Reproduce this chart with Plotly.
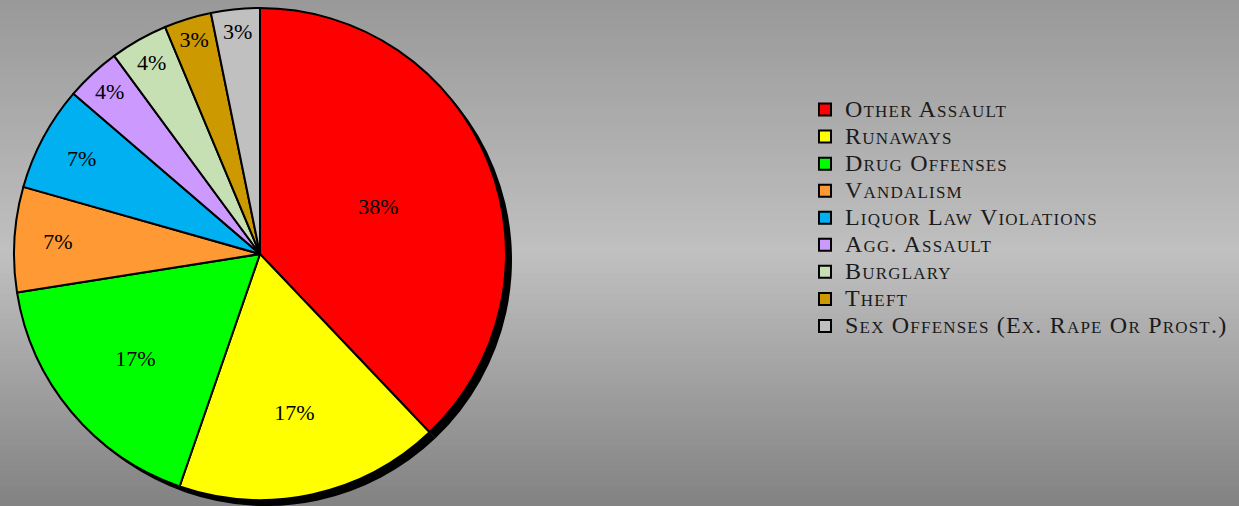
import plotly.graph_objects as go

labels = ["Other Assault", "Runaways", "Drug Offenses", "Vandalism",
          "Liquor Law Violations", "Agg. Assault", "Burglary", "Theft",
          "Sex Offenses (Ex. Rape Or Prost.)"]
values = [37.9, 17.4, 17.2, 6.9, 6.9, 3.6, 3.8, 3.1, 3.2]
colors = ["#FF0000", "#FFFF00", "#00FF00", "#FF9933", "#00B0F0",
          "#CC99FF", "#C6E0B4", "#CC9900", "#C0C0C0"]

W, H = 1239, 506
cx, cy, r = 260, 254, 246
sh = 6

def dom(dx=0, dy=0):
    x0 = (cx - r + dx) / W
    x1 = (cx + r + dx) / W
    yb = H - (cy + dy)
    return dict(x=[max(0, x0), min(1, x1)],
                y=[max(0.0, (yb - r) / H), min(1.0, (yb + r) / H)])

legend_labels = ["<span style='font-size:24px;letter-spacing:1.2px'>"
                 + l + "</span>" for l in labels]

fig = go.Figure()
fig.add_trace(go.Pie(
    labels=legend_labels, values=values, sort=False, direction="clockwise",
    rotation=0, domain=dom(sh, sh), showlegend=False, textinfo="none",
    hoverinfo="skip", marker=dict(colors=["#000000"] * len(labels),
                                  line=dict(color="#000000", width=0)),
))
fig.add_trace(go.Pie(
    labels=legend_labels, values=values, sort=False, direction="clockwise",
    rotation=0, domain=dom(), textinfo="percent", textposition="inside",
    insidetextorientation="horizontal",
    texttemplate="%{percent:.0%}",
    insidetextfont=dict(family="Liberation Serif", size=22, color="black"),
    marker=dict(colors=colors, line=dict(color="#000000", width=2)),
))

# background gradient
shapes = []
n = 100
for i in range(n):
    y0 = i / n
    y1 = (i + 1) / n
    ypix = H * (1 - (y0 + y1) / 2)
    if ypix < 253:
        v = 153 + (192 - 153) * ypix / 253
    else:
        v = 192 + (130 - 192) * (ypix - 253) / (H - 253)
    v = int(round(v))
    shapes.append(dict(type="rect", xref="paper", yref="paper", x0=0, x1=1,
                       y0=y0, y1=min(1, y1 + 0.002), line=dict(width=0),
                       fillcolor=f"rgb({v},{v},{v})", layer="below"))

fig.update_layout(
    width=W, height=H,
    margin=dict(l=0, r=0, t=0, b=0, autoexpand=False),
    paper_bgcolor="#bebebe", plot_bgcolor="rgba(0,0,0,0)",
    shapes=shapes,
    legend=dict(x=805 / W, y=1 - 91 / H, xanchor="left", yanchor="top",
                font=dict(family="Liberation Serif", size=18.5, color="#1a1a1a",
                          variant="small-caps"),
                bgcolor="rgba(0,0,0,0)", itemwidth=30),
)
fig.write_html("out.html", config={"displayModeBar": False},
               post_script="document.body.style.margin='0';"
                           "document.body.style.overflow='hidden';")
